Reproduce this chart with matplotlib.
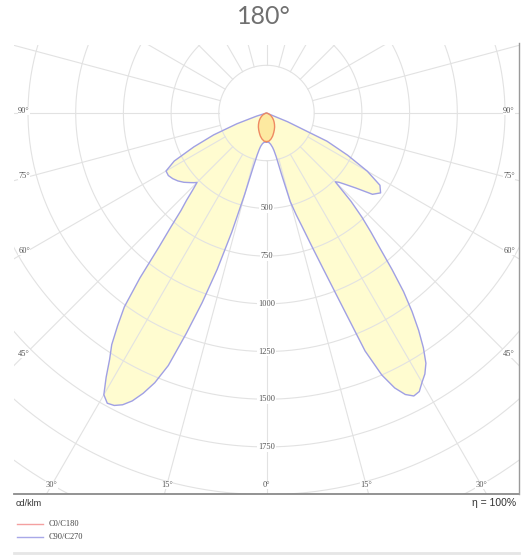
import numpy as np
import matplotlib
matplotlib.use("Agg")
import matplotlib.pyplot as plt

# ---------------- data (cd/klm) ----------------
title = "180°"
unit_label = "cd/klm"
eta_label = "η = 100%"
series_names = ["C0/C180", "C90/C270"]

gamma_c90 = [0, 2.5, 5, 7.5, 10, 11.25, 12.5, 13.75, 15, 16.25, 17.5, 18.75, 20, 21.25,
             22.5, 23.75, 25, 26.25, 27.5, 28.75, 30, 31.25, 32.5, 33.75, 35, 36.25,
             37.5, 38.75, 40, 41.25, 42.5, 43.75, 45, 46.25, 47.5, 50, 52.5, 55, 57.5,
             60, 62.5, 65, 67.5, 70, 72.5, 75, 90, 180]
c90 = [152, 153, 156, 165, 183, 200, 235, 330, 480, 555, 630, 735, 870, 1060,
       1350, 1500, 1590, 1645, 1672, 1665, 1630, 1600, 1555, 1480, 1390, 1290,
       1180, 1050, 925, 830, 740, 640, 510, 525, 550, 612, 700, 730, 705,
       610, 480, 350, 120, 0, 0, 0, 0, 0]
c270 = [152, 153, 155, 162, 178, 195, 225, 290, 440, 650, 860, 1050, 1230, 1420,
        1530, 1605, 1665, 1705, 1728, 1735, 1705, 1620, 1530, 1460, 1360, 1260,
        1090, 900, 780, 680, 620, 560, 515, 528, 540, 565, 585, 600, 610,
        608, 545, 420, 300, 165, 55, 0, 0, 0]

gamma_c0 = [0, 5, 10, 15, 20, 25, 30, 35, 40, 45, 50, 55, 60, 65, 70, 75, 80, 85, 90, 180]
c0 = [150, 148, 138, 125, 110, 97, 85, 73, 62, 52, 42, 33, 25, 17, 10, 5, 2, 0, 0, 0]
c180 = c0

ring_values = [250, 500, 750, 1000, 1250, 1500, 1750, 2000, 2250, 2500]
ring_labels = [500, 750, 1000, 1250, 1500, 1750]
angle_ticks = list(range(0, 360, 15))
angle_labels = [0, 15, 30, 45, 60, 75, 90]

# ---------------- layout ----------------
W, H = 521, 555
fig = plt.figure(figsize=(W / 100, H / 100), dpi=100)
px = 5.241  # data units per pixel
ox, oy = 266.5, 113.0
L, R, T, B = 14, 519, 45, 494
ax = fig.add_axes([L / W, 1 - B / H, (R - L) / W, (B - T) / H])
ax.set_xlim((L - ox) * px, (R - ox) * px)
ax.set_ylim((oy - B) * px, (oy - T) * px)
ax.set_aspect("equal", adjustable="box")
ax.axis("off")

grid_col = "#e2e2e2"
t = np.linspace(0, 2 * np.pi, 721)
for r in ring_values:
    ax.plot(r * np.sin(t), -r * np.cos(t), color=grid_col, lw=0.8, zorder=3)
for a in angle_ticks:
    ar = np.deg2rad(a)
    ax.plot([250 * np.sin(ar), 4000 * np.sin(ar)], [-250 * np.cos(ar), -4000 * np.cos(ar)],
            color=grid_col, lw=0.8, zorder=3)

def xy(gam, vals, sign):
    g = np.deg2rad(np.asarray(gam, float))
    v = np.asarray(vals, float)
    return sign * v * np.sin(g), -v * np.cos(g)

# C90/C270 closed curve
xr, yr = xy(gamma_c90, c90, 1)
xl, yl = xy(gamma_c90, c270, -1)
xb = np.concatenate([xr, xl[::-1]])
yb = np.concatenate([yr, yl[::-1]])
ax.fill(xb, yb, color="#fffcd0", zorder=1, lw=0)
# C0/C180
xr0, yr0 = xy(gamma_c0, c0, 1)
xl0, yl0 = xy(gamma_c0, c180, -1)
xa = np.concatenate([xr0, xl0[::-1]])
ya = np.concatenate([yr0, yl0[::-1]])
ax.fill(xa, ya, color="#fde9a0", zorder=2, lw=0)

ax.plot(xb, yb, color="#a0a0e4", lw=1.0, zorder=5, solid_joinstyle="round")
ax.plot(xa, ya, color="#ef8a62", lw=1.0, zorder=6, solid_joinstyle="round")

# ring labels on the 0° axis
for v in ring_labels:
    ax.text(0, -v, f"{v}", ha="center", va="center", fontsize=6, color="#555555",
            family="Liberation Serif", zorder=8,
            bbox=dict(facecolor="white", edgecolor="none", pad=0.5))

# angle labels on an inner rectangle
xin = (509 - ox) * px
ybot = (oy - 485) * px
for a in angle_labels:
    ar = np.deg2rad(a)
    if a <= 30:
        y = ybot
        x = -y * np.tan(ar)
    else:
        x = xin
        y = -x / np.tan(ar) if a < 90 else 0
        y += 2 * px
    for s in ([1, -1] if a > 0 else [1]):
        ax.text(s * x, y, f"{a}°", ha="center", va="center", fontsize=6,
                color="#555555", family="Liberation Serif", zorder=8,
                bbox=dict(facecolor="white", edgecolor="none", pad=0.3))

# frame lines
fig.add_artist(plt.Line2D([L / W, R / W], [1 - B / H, 1 - B / H], color="#8a8a8a", lw=1.3))
fig.add_artist(plt.Line2D([R / W, R / W], [1 - B / H, 1 - 43 / H], color="#9a9a9a", lw=1.0))
fig.add_artist(plt.Line2D([L / W, R / W], [1 - 553 / H, 1 - 553 / H], color="#e6e6e6", lw=2.0))

fig.text(264 / W, 1 - 16 / H, title, ha="center", va="center", fontsize=18,
         color="#707070", family="Lato")
fig.text(16 / W, 1 - 503 / H, unit_label, ha="left", va="center", fontsize=6.5,
         color="#333333", family="Liberation Sans")
fig.text(516 / W, 1 - 503 / H, eta_label, ha="right", va="center", fontsize=7.5,
         color="#333333", family="Liberation Sans")

leg_cols = ["#f4a0a0", "#a8a8e8"]
for i, (name, c) in enumerate(zip(series_names, leg_cols)):
    yy = 1 - (523.5 + 13.5 * i) / H
    fig.add_artist(plt.Line2D([17 / W, 43 / W], [yy, yy], color=c, lw=1.0))
    fig.text(49 / W, yy, name, ha="left", va="center", fontsize=6, color="#444444",
             family="Liberation Serif")

fig.savefig("out.png", dpi=100)
